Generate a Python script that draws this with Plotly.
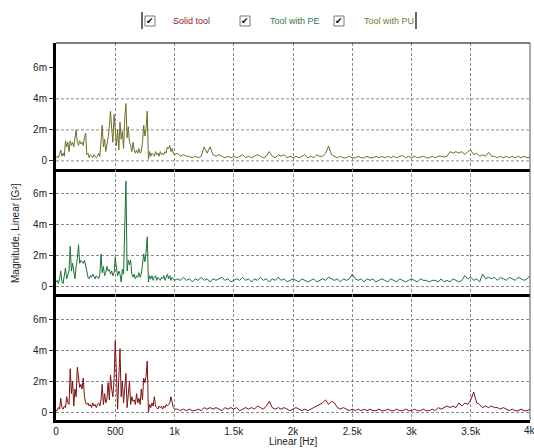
import numpy as np
import plotly.graph_objects as go
from plotly.subplots import make_subplots

# Frequency axis: 10 Hz resolution up to 1 kHz, 25 Hz above
freq_low = np.arange(0, 1001, 10)
freq_high = np.arange(1025, 4001, 25)
freq = np.concatenate([freq_low, freq_high])

# Magnitudes in milli-G^2
pu_low = [
    0.2, 0.3, 0.2, 0.5, 0.7, 0.3, 0.5, 0.3, 1.3, 0.9,
    1.2, 0.6, 1.3, 1.0, 1.2, 0.9, 1.4, 2.0, 1.2, 1.0,
    1.3, 1.1, 1.2, 1.0, 1.5, 1.8, 0.4, 0.5, 0.2, 0.4,
    0.3, 0.2, 0.4, 0.3, 0.2, 0.3, 0.5, 0.3, 1.1, 2.3,
    0.9, 1.4, 0.6, 1.0, 1.5, 2.2, 3.2, 2.1, 1.2, 3.0,
    1.6, 1.0, 2.0, 0.7, 2.5, 1.4, 1.9, 0.8, 2.7, 3.7,
    1.5, 2.2, 1.2, 1.0, 0.6, 1.2, 0.7, 0.5, 0.7, 0.5,
    0.8, 0.5, 0.6, 1.2, 2.3, 1.6, 2.1, 3.2, 0.1, 0.6,
    0.3, 0.5, 0.4, 0.3, 0.6, 0.4, 0.5, 0.3, 0.6, 0.4,
    0.5, 0.4, 0.6, 0.5, 0.9, 0.8, 1.0, 0.6, 0.8, 0.5,
    0.4,
]
pu_high = [
    0.5, 0.3, 0.4, 0.3, 0.3, 0.2, 0.3, 0.2, 0.3, 0.9,
    0.5, 0.9, 0.4, 0.3, 0.4, 0.3, 0.2, 0.3, 0.2, 0.3,
    0.2, 0.3, 0.4, 0.2, 0.3, 0.2, 0.3, 0.4, 0.3, 0.2,
    0.3, 0.6, 0.3, 0.2, 0.4, 0.3, 0.4, 0.2, 0.3, 0.2,
    0.3, 0.2, 0.3, 0.4, 0.2, 0.3, 0.2, 0.4, 0.3, 0.3,
    0.5, 0.95, 0.4, 0.3, 0.2, 0.3, 0.2, 0.2, 0.3, 0.2,
    0.2, 0.3, 0.2, 0.2, 0.3, 0.2, 0.2, 0.3, 0.2, 0.3,
    0.2, 0.3, 0.2, 0.3, 0.2, 0.3, 0.35, 0.2, 0.3, 0.2,
    0.3, 0.2, 0.25, 0.3, 0.2, 0.2, 0.3, 0.2, 0.3, 0.3,
    0.25, 0.3, 0.6, 0.5, 0.6, 0.5, 0.6, 0.4, 0.6, 0.7,
    0.4, 0.5, 0.3, 0.4, 0.3, 0.55, 0.3, 0.3, 0.2, 0.3,
    0.2, 0.3, 0.2, 0.3, 0.2, 0.3, 0.2, 0.3, 0.2, 0.25,
]

pe_low = [
    0.3, 0.4, 0.2, 0.5, 1.0, 0.3, 0.2, 0.6, 1.2, 0.5,
    0.8, 1.0, 2.6, 1.0, 1.5, 1.1, 0.5, 1.3, 1.8, 2.7,
    1.5, 1.7, 1.6, 1.5, 1.7, 1.2, 1.0, 0.6, 0.5, 0.7,
    0.6, 0.8, 0.6, 0.5, 0.7, 0.6, 0.5, 0.8, 2.1, 0.9,
    1.3, 0.7, 0.9, 1.3, 1.0, 1.1, 0.8, 1.0, 0.7, 0.9,
    1.9, 1.2, 0.7, 1.0, 0.8, 0.3, 1.1, 0.8, 3.7, 6.8,
    1.0, 1.7, 1.4, 1.7, 0.8, 0.6, 0.8, 0.5, 0.7, 0.6,
    0.9, 0.6, 0.8, 1.5, 2.1, 1.6, 2.2, 3.2, 0.3, 0.7,
    0.5, 0.7, 0.4, 0.6, 0.7, 0.4, 0.6, 0.5, 0.4, 0.6,
    0.5, 0.7, 0.4, 0.6, 0.8, 0.5, 0.7, 0.4, 0.6, 0.5,
    0.4,
]
pe_high = [
    0.5, 0.4, 0.6, 0.4, 0.5, 0.3, 0.5, 0.4, 0.6, 0.4,
    0.5, 0.3, 0.5, 0.4, 0.5, 0.6, 0.4, 0.5, 0.3, 0.4,
    0.5, 0.4, 0.6, 0.4, 0.5, 0.3, 0.5, 0.4, 0.6, 0.4,
    0.5, 0.3, 0.5, 0.4, 0.6, 0.4, 0.5, 0.3, 0.4, 0.5,
    0.4, 0.3, 0.5, 0.4, 0.3, 0.4, 0.5, 0.3, 0.4, 0.5,
    0.4, 0.6, 0.5, 0.4, 0.5, 0.3, 0.5, 0.4, 0.5, 0.8,
    0.5, 0.4, 0.5, 0.3, 0.5, 0.4, 0.5, 0.3, 0.4, 0.5,
    0.4, 0.3, 0.5, 0.4, 0.3, 0.5, 0.4, 0.3, 0.4, 0.5,
    0.4, 0.3, 0.5, 0.4, 0.4, 0.3, 0.4, 0.4, 0.3, 0.5,
    0.3, 0.4, 0.3, 0.5, 0.4, 0.3, 0.4, 0.7, 0.5, 0.6,
    0.4, 0.5, 0.3, 0.8, 0.5, 0.6, 0.5, 0.6, 0.4, 0.6,
    0.5, 0.4, 0.6, 0.5, 0.4, 0.6, 0.5, 0.4, 0.5, 0.7,
]

solid_low = [
    0.1, 0.1, 0.3, 0.2, 0.9, 0.3, 0.2, 0.4, 0.3, 1.0,
    0.6, 0.5, 2.8, 1.2, 2.0, 0.4, 1.5, 1.0, 2.9, 2.4,
    1.6, 1.8, 1.5, 2.2, 1.0, 0.6, 0.5, 0.6, 0.4, 0.5,
    0.3, 0.6, 0.4, 0.5, 0.3, 0.5, 0.6, 0.4, 0.8, 1.8,
    0.5, 1.2, 0.6, 0.9, 1.9, 0.8, 2.4, 1.5, 1.0, 2.1,
    4.6, 2.5, 0.2, 2.2, 4.1, 1.0, 2.0, 0.6, 1.5, 2.5,
    0.3, 1.2, 2.0, 0.5, 1.0, 0.7, 0.8, 0.5, 1.2, 0.6,
    0.9, 0.5, 1.5, 0.8, 2.2, 1.9, 2.3, 3.3, 0.0, 0.5,
    0.3, 0.6, 0.4, 1.0, 0.4, 0.3, 0.2, 0.4, 0.3, 0.4,
    0.2, 0.4, 0.3, 0.5, 0.4, 0.5, 0.6, 1.0, 0.5, 0.3,
    0.2,
]
solid_high = [
    0.2, 0.1, 0.2, 0.1, 0.2, 0.1, 0.1, 0.2, 0.1, 0.3,
    0.2, 0.3, 0.2, 0.3, 0.2, 0.1, 0.3, 0.2, 0.3, 0.2,
    0.3, 0.1, 0.2, 0.3, 0.2, 0.3, 0.2, 0.4, 0.3, 0.2,
    0.4, 0.7, 0.3, 0.2, 0.3, 0.2, 0.3, 0.2, 0.1, 0.2,
    0.3, 0.2, 0.1, 0.2, 0.1, 0.2, 0.3, 0.4, 0.5, 0.6,
    0.8, 0.5, 0.7, 0.6, 0.3, 0.2, 0.3, 0.2, 0.1, 0.2,
    0.1, 0.2, 0.1, 0.2, 0.1, 0.2, 0.1, 0.1, 0.2, 0.1,
    0.1, 0.2, 0.1, 0.1, 0.2, 0.1, 0.1, 0.2, 0.1, 0.1,
    0.2, 0.1, 0.1, 0.2, 0.1, 0.1, 0.2, 0.1, 0.3, 0.2,
    0.3, 0.4, 0.3, 0.4, 0.3, 0.6, 0.4, 0.6, 0.5, 0.8,
    1.3, 0.6, 0.5, 0.3, 0.4, 0.3, 0.4, 0.3, 0.3, 0.2,
    0.3, 0.2, 0.1, 0.2, 0.1, 0.1, 0.2, 0.1, 0.1, 0.2,
]

series_names = ["Tool with PU", "Tool with PE", "Solid tool"]
series_values = [pu_low + pu_high, pe_low + pe_high, solid_low + solid_high]
line_colors = ["#6e6d2b", "#1d7037", "#7b1212"]
text_colors = ["#77772f", "#2f7d45", "#8b1c1c"]

x_tick_vals = [0, 500, 1000, 1500, 2000, 2500, 3000, 3500, 4000]
x_tick_text = ["0", "500", "1k", "1.5k", "2k", "2.5k", "3k", "3.5k", "4k"]
y_tick_vals = [0, 2, 4, 6]
y_tick_text = ["0", "2m", "4m", "6m"]

for v in series_values:
    assert len(v) == len(freq)

W, H = 534, 448
ML, MR, MT, MB = 56, 4, 43, 28
PW, PH = W - ML - MR, H - MT - MB


def px_x(px):
    return (px - ML) / PW


def px_y(py):
    return (H - MB - py) / PH


FONT = "Liberation Sans, Arial, sans-serif"
GRID = "#8a8a8a"
TICK_FONT = dict(family=FONT, size=10, color="#222")

fig = make_subplots(rows=3, cols=1, shared_xaxes=True, vertical_spacing=0)

for i, (name, vals, col) in enumerate(zip(series_names, series_values, line_colors)):
    fig.add_trace(
        go.Scatter(x=freq, y=vals, mode="lines", name=name,
                   line=dict(color=col, width=1), showlegend=False),
        row=i + 1, col=1,
    )

for r in range(1, 4):
    fig.update_xaxes(
        row=r, col=1, range=[0, 4000], tickvals=x_tick_vals, ticktext=x_tick_text,
        showgrid=True, gridcolor=GRID, griddash="3px,2px", gridwidth=1,
        showline=True, linecolor="black", linewidth=3, zeroline=False,
        ticks="", showticklabels=(r == 3), tickfont=TICK_FONT,
    )
    fig.update_yaxes(
        row=r, col=1, range=[-0.5, 7.6], tickvals=y_tick_vals, ticktext=y_tick_text,
        showgrid=(r != 1), gridcolor=GRID, griddash="3px,2px", gridwidth=1,
        showline=True, linecolor="black", linewidth=3, zeroline=False,
        ticks="outside", ticklen=4, tickcolor="#333", tickfont=TICK_FONT,
    )

shapes = []
# Top panel grid lines (0, 2m, 4m only)
for gv in [0, 2, 4]:
    shapes.append(dict(type="line", xref="x domain", yref="y", x0=0, x1=1, y0=gv, y1=gv,
                       line=dict(color=GRID, width=1, dash="3px,2px"), layer="below"))
# Frame: top and right borders
shapes.append(dict(type="line", xref="paper", yref="paper", x0=0, x1=1, y0=1, y1=1,
                   line=dict(color="black", width=1)))
shapes.append(dict(type="line", xref="paper", yref="paper", x0=1, x1=1, y0=0, y1=1,
                   line=dict(color="#555", width=1)))

# Legend strip with check boxes
for bx in [142, 416]:
    shapes.append(dict(type="line", xref="paper", yref="paper",
                       x0=px_x(bx), x1=px_x(bx), y0=px_y(12), y1=px_y(29),
                       line=dict(color="#333", width=1.5)))

legend_items = [("Solid tool", 145, 171, text_colors[2]),
                ("Tool with PE", 240, 268, text_colors[1]),
                ("Tool with PU", 334, 362, text_colors[0])]
annotations = []
for label, box_x, text_x, tc in legend_items:
    shapes.append(dict(type="rect", xref="paper", yref="paper",
                       x0=px_x(box_x), x1=px_x(box_x + 10), y0=px_y(26), y1=px_y(16),
                       line=dict(color="#777", width=1), fillcolor="white"))
    annotations.append(dict(text="✔", xref="paper", yref="paper",
                            x=px_x(box_x + 5), y=px_y(21), xanchor="center", yanchor="middle",
                            showarrow=False, font=dict(family="DejaVu Sans", size=9, color="black")))
    annotations.append(dict(text=label, xref="paper", yref="paper",
                            x=px_x(text_x), y=px_y(21), xanchor="left", yanchor="middle",
                            showarrow=False, font=dict(family=FONT, size=9, color=tc)))

# Last x tick label sits on the right edge of the page
annotations.append(dict(text=x_tick_text[-1], xref="x3", yref="paper",
                        x=x_tick_vals[-1], y=px_y(430), xanchor="center", yanchor="middle",
                        showarrow=False, font=TICK_FONT))
annotations.append(dict(text="Linear [Hz]", xref="paper", yref="paper",
                        x=px_x(293), y=px_y(448), xanchor="center", yanchor="bottom",
                        showarrow=False, borderpad=0,
                        font=dict(family=FONT, size=10, color="#222")))
annotations.append(dict(text="Magnitude, Linear [G²]", xref="paper", yref="paper",
                        x=px_x(15), y=px_y(233), xanchor="center", yanchor="middle",
                        textangle=-90, showarrow=False,
                        font=dict(family=FONT, size=10, color="#222")))

fig.update_layout(
    width=W, height=H,
    margin=dict(l=ML, r=MR, t=MT, b=MB, pad=0),
    paper_bgcolor="white", plot_bgcolor="white",
    shapes=shapes, annotations=annotations,
    showlegend=False,
)

fig.write_html("out.html")
